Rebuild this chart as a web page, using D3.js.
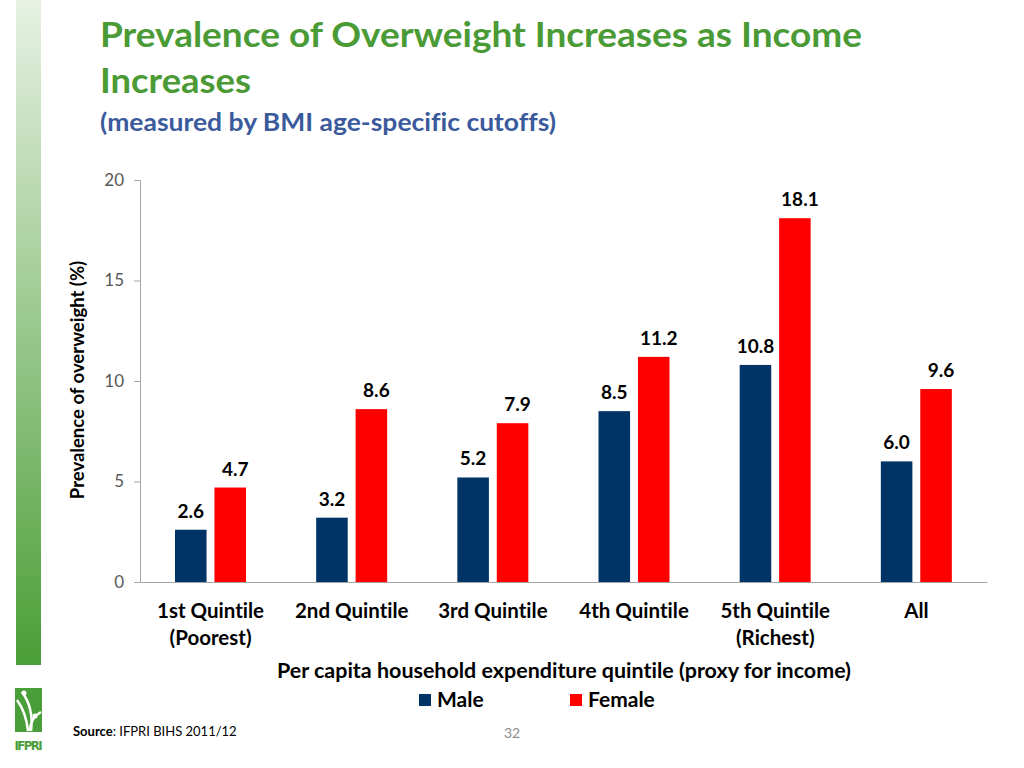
<!DOCTYPE html>
<html><head><meta charset="utf-8">
<script src="https://cdn.jsdelivr.net/npm/d3@7"></script>
<style>
html,body{margin:0;padding:0;background:#fff;}
svg{display:block;font-family:Lato,"Open Sans",sans-serif;font-variant-ligatures:none;}
</style></head>
<body>
<svg id="chart" width="1024" height="768"></svg>
<script>
const categories = ["1st Quintile\n(Poorest)", "2nd Quintile", "3rd Quintile", "4th Quintile", "5th Quintile\n(Richest)", "All"];
const seriesNames = ["Male", "Female"];
const maleValues = [2.6, 3.2, 5.2, 8.5, 10.8, 6.0];
const femaleValues = [4.7, 8.6, 7.9, 11.2, 18.1, 9.6];
const yTicks = [0, 5, 10, 15, 20];
const colors = {Male: "#003366", Female: "#ff0000"};

const svg = d3.select("#chart");

// left gradient bar
const defs = svg.append("defs");
const lg = defs.append("linearGradient").attr("id","gbar").attr("x1",0).attr("y1",0).attr("x2",0).attr("y2",1);
lg.append("stop").attr("offset","0%").attr("stop-color","#e6f1e2");
lg.append("stop").attr("offset","100%").attr("stop-color","#4b9e37");
svg.append("rect").attr("x",16).attr("y",0).attr("width",25).attr("height",665).attr("fill","url(#gbar)");

// logo
const logo = svg.append("g");
logo.append("rect").attr("x",15).attr("y",688).attr("width",27).attr("height",44).attr("fill","#4a9e3a");
logo.append("path").attr("d","M17,700 Q26,712 28,731 M22,692 Q34,708 31,731 M41,712 Q30,718 30,731").attr("stroke","#fff").attr("stroke-width",2.5).attr("fill","none");
logo.append("circle").attr("cx",24).attr("cy",693).attr("r",2.5).attr("fill","#fff");
logo.append("circle").attr("cx",35).attr("cy",716).attr("r",2.5).attr("fill","#fff");
logo.append("text").attr("x",28.5).attr("y",750).attr("text-anchor","middle").attr("font-size",13).attr("font-weight","bold").attr("fill","#4a9e3a").attr("font-family","'Liberation Sans Narrow','DejaVu Sans Condensed',sans-serif").attr("textLength",28).text("IFPRI");

// titles
svg.append("text").attr("x",100).attr("y",47).attr("font-size",34).attr("font-weight","bold").attr("fill","#4a9a35").attr("textLength",762).attr("lengthAdjust","spacingAndGlyphs").text("Prevalence of Overweight Increases as Income");
svg.append("text").attr("x",100).attr("y",93).attr("font-size",34).attr("font-weight","bold").attr("fill","#4a9a35").attr("textLength",151).attr("lengthAdjust","spacingAndGlyphs").text("Increases");
svg.append("text").attr("x",100).attr("y",131).attr("font-size",24).attr("font-weight","bold").attr("fill","#3a5a9c").attr("textLength",456).attr("lengthAdjust","spacingAndGlyphs").text("(measured by BMI age-specific cutoffs)");

// scales
const x0 = d3.scaleBand().domain(categories).range([140, 987]).padding(0);
const x1 = d3.scaleBand().domain(seriesNames).range([35, 106]).paddingInner(0.2);
const y = d3.scaleLinear().domain([0, 20]).range([582, 180]);

// y axis
const yAxis = svg.append("g").attr("transform","translate(140,0)")
  .call(d3.axisLeft(y).tickValues(yTicks).tickSize(6).tickPadding(10));
yAxis.select(".domain").attr("stroke","#a6a6a6");
yAxis.selectAll(".tick line").attr("stroke","#a6a6a6");
yAxis.selectAll(".tick text").attr("font-size",17).attr("fill","#595959").attr("font-family","Lato,sans-serif");

// x axis
const xAxis = svg.append("g").attr("transform","translate(0,582)")
  .call(d3.axisBottom(x0).tickSize(0).tickFormat(""));
xAxis.select(".domain").attr("stroke","#a6a6a6");

// category labels
categories.forEach(c => {
  const lines = c.split("\n");
  const t = svg.append("text").attr("text-anchor","middle").attr("font-size",20.5).attr("font-weight","bold").attr("fill","#000");
  lines.forEach((ln,i) => {
    t.append("tspan").attr("x", x0(c) + x0.bandwidth()/2).attr("y", 618 + i*27).text(ln);
  });
});

// bars
const data = categories.map((c,i) => ({cat:c, vals:[{s:"Male",v:maleValues[i]},{s:"Female",v:femaleValues[i]}]}));
const groups = svg.append("g").selectAll("g").data(data).join("g")
  .attr("transform", d => `translate(${x0(d.cat)},0)`);
groups.selectAll("rect").data(d => d.vals).join("rect")
  .attr("x", d => x1(d.s)).attr("width", x1.bandwidth())
  .attr("y", d => y(d.v)).attr("height", d => y(0) - y(d.v))
  .attr("fill", d => colors[d.s]);
groups.selectAll("text").data(d => d.vals).join("text")
  .attr("x", d => x1(d.s) + x1.bandwidth()/2 + (d.s === "Female" ? 5 : 0))
  .attr("y", d => y(d.v) - 12)
  .attr("text-anchor","middle").attr("font-size",19).attr("font-weight","bold").attr("fill","#000")
  .text(d => d.v.toFixed(1));

// axis titles
svg.append("text").attr("transform","translate(84,380) rotate(-90)").attr("text-anchor","middle").attr("font-size",18.5).attr("font-weight","bold").attr("fill","#000").text("Prevalence of overweight (%)");
svg.append("text").attr("x",564).attr("y",678).attr("text-anchor","middle").attr("font-size",21).attr("font-weight","bold").attr("fill","#000").attr("textLength",574).attr("lengthAdjust","spacingAndGlyphs").text("Per capita household expenditure quintile (proxy for income)");

// legend
const legX = [419, 570];
seriesNames.forEach((s,i) => {
  svg.append("rect").attr("x",legX[i]).attr("y",694).attr("width",12).attr("height",12).attr("fill",colors[s]);
  svg.append("text").attr("x",legX[i]+18).attr("y",707).attr("font-size",21).attr("font-weight","bold").attr("fill","#000").text(s);
});

// source and page number
const src = svg.append("text").attr("x",73).attr("y",736).attr("font-size",13).attr("fill","#000");
src.append("tspan").attr("font-weight","bold").text("Source");
src.append("tspan").text(": IFPRI BIHS 2011/12");
svg.append("text").attr("x",512).attr("y",738).attr("text-anchor","middle").attr("font-size",14).attr("fill","#8c8c8c").text("32");
</script>
</body></html>
